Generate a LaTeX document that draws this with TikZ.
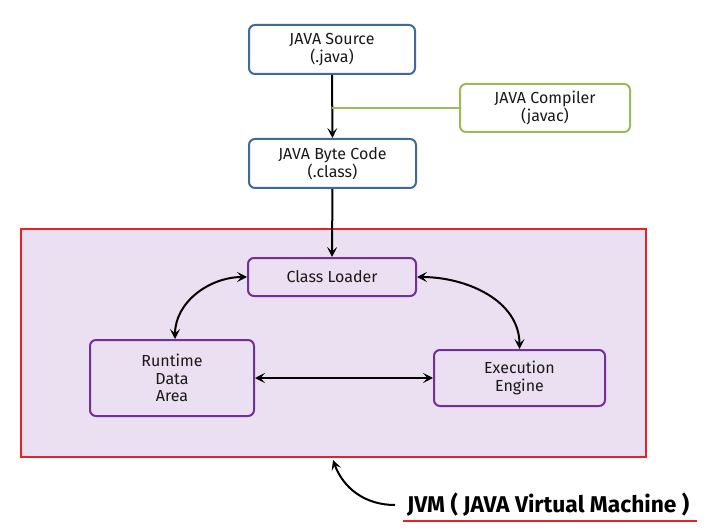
\documentclass[tikz,border=0pt]{standalone}
\usepackage{fontspec}
\setmainfont{Fira Sans}
\usetikzlibrary{arrows.meta}
\definecolor{bbord}{HTML}{41699A}
\definecolor{gbord}{HTML}{9BBB59}
\definecolor{pbord}{HTML}{7030A0}
\definecolor{lav}{HTML}{EBE0F1}
\definecolor{jred}{HTML}{E8202A}
\begin{document}
\begin{tikzpicture}[x=1pt,y=-1pt,
  box/.style={draw, line width=2pt, rounded corners=6pt, align=center, inner sep=0pt, font=\fontsize{16}{17.5}\selectfont, text=black!90},
  bluebox/.style={box, draw=bbord, fill=white},
  greenbox/.style={box, draw=gbord, fill=white},
  purplebox/.style={box, draw=pbord},
  arr/.style={line width=2pt, -{Stealth[length=10pt,width=10pt,inset=4.5pt]}},
  darr/.style={line width=2pt, {Stealth[length=10pt,width=10pt,inset=4.5pt]}-{Stealth[length=10pt,width=10pt,inset=4.5pt]}}]
\useasboundingbox (0,0) rectangle (710,532);
\node[draw=jred, line width=2.5pt, fill=lav, minimum width=625pt, minimum height=228pt, inner sep=0pt] (jvmbox) at (333.5,343) {};
\node[bluebox, minimum width=166pt, minimum height=49pt] (src) at (332,49.5) {JAVA Source\\(.java)};
\node[greenbox, minimum width=170pt, minimum height=48pt] (comp) at (545,108) {JAVA Compiler\\(javac)};
\node[bluebox, minimum width=167pt, minimum height=49pt] (bc) at (332.5,163.5) {JAVA Byte Code\\(.class)};
\node[purplebox, minimum width=168pt, minimum height=38pt] (cl) at (332,277) {Class Loader};
\node[purplebox, minimum width=164pt, minimum height=76pt] (rt) at (172,378) {Runtime\\Data\\Area};
\node[purplebox, minimum width=171pt, minimum height=56pt] (ex) at (519.5,378) {Execution\\Engine};
\coordinate (tap) at (332,108);
\draw[arr] (src) -- (bc);
\draw[gbord, line width=2pt] (tap) -- (comp.west);
\draw[arr] (bc) -- (cl);
\draw[darr] (cl.west) to[out=180, in=90] ([xshift=3pt]rt.north);
\draw[darr] (cl.east) to[out=0, in=90] (ex.north);
\draw[darr] (rt.east) -- (ex.west);
\node[font=\fontsize{22.8}{26}\selectfont\bfseries, inner sep=0pt, anchor=west] (jvm) at (407,505) {JVM ( JAVA Virtual Machine )};
\coordinate (ulL) at (403,521);
\coordinate (ulR) at (697,521);
\draw[jred, line width=2pt] (ulL) -- (ulR);
\coordinate (jvmpt) at (333,460);
\draw[arr] (jvm.west) ++(-12,0) to[out=180, in=-70] (jvmpt);
\end{tikzpicture}
\end{document}
